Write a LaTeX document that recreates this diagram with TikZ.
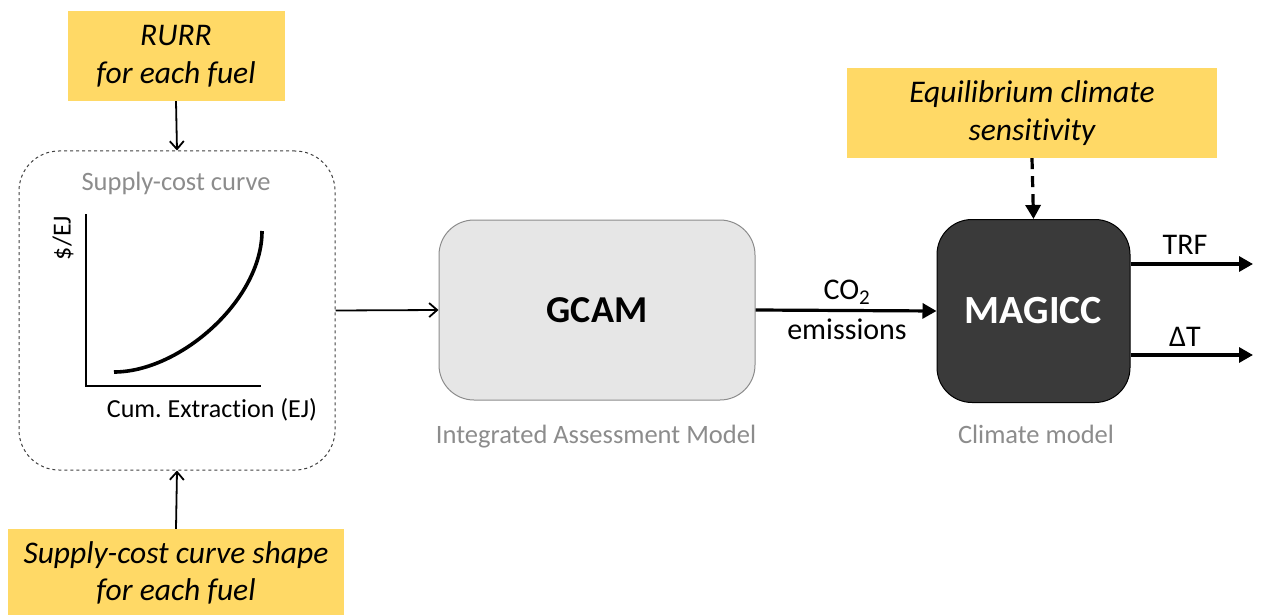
\documentclass[tikz,border=0pt]{standalone}
\usepackage{fontspec}
\setmainfont{Carlito}[Ligatures=NoCommon]
\usetikzlibrary{arrows.meta}
\definecolor{ybox}{HTML}{FFD966}
\definecolor{gtext}{HTML}{8C8C8C}
\definecolor{gcamfill}{HTML}{E6E6E6}
\definecolor{magfill}{HTML}{3A3A3A}
\begin{document}
\frenchspacing
\begin{tikzpicture}[x=1pt,y=1pt,
  inbox/.style={fill=ybox, draw=none, align=center, inner sep=0pt,
    font=\fontsize{31.5}{37.5}\selectfont\itshape},
  modelbox/.style={rounded corners=35pt, inner sep=0pt, line width=1pt},
  graylabel/.style={text=gtext, font=\fontsize{26.5}{30}\selectfont, inner sep=0pt},
  plainlabel/.style={font=\fontsize{30}{34}\selectfont, inner sep=0pt},
  thinarrow/.style={line width=1.8pt, -{Straight Barb[length=8pt,width=14pt]}},
  thickarrow/.style={line width=3.2pt, -{Triangle[length=14pt,width=15pt]}},
]
\useasboundingbox (0,0) rectangle (1261,-615);

% input boxes
\node[inbox, minimum width=217pt, minimum height=90pt] (rurr) at (176,-56) {RURR\\for each fuel};
\node[inbox, minimum width=336pt, minimum height=88pt] (shape) at (176,-573) {Supply-cost curve shape\\for each fuel};
\node[inbox, minimum width=370pt, minimum height=90pt] (ecs) at (1032,-113) {Equilibrium climate\\sensitivity};

% supply-cost curve container
\node[draw=black!75, dashed, line width=1pt, rounded corners=40pt, minimum width=316pt, minimum height=319pt, inner sep=0pt] (sc) at (177,-310.5) {};
\node[graylabel] (sctitle) at (176,-183) {Supply-cost curve};
\draw[line width=2.4pt] (86,-214) -- (86,-386) -- (261,-386);
\draw[line width=3.6pt] (114,-372) .. controls (180,-372) and (262,-300) .. (262,-231);
\node[font=\fontsize{26}{30}\selectfont, rotate=90, inner sep=0pt] (ylab) at (63,-238) {\$/EJ};
\node[font=\fontsize{26}{30}\selectfont, inner sep=0pt] (xlab) at (212,-410) {Cum. Extraction (EJ)};

% models
\node[modelbox, draw=black!45, fill=gcamfill, minimum width=316pt, minimum height=180pt,
  font=\fontsize{38}{42}\selectfont\bfseries] (gcam) at (597,-310) {GCAM};
\node[graylabel] (gcamlab) at (596,-437) {Integrated Assessment Model};
\node[modelbox, draw=black, fill=magfill, text=white, minimum width=193pt, minimum height=183pt,
  font=\fontsize{40}{44}\selectfont\bfseries] (magicc) at (1033.5,-311) {MAGICC};
\node[graylabel] (maglab) at (1036,-434) {Climate model};

% connectors
\draw[thinarrow] (rurr.south) -- (sc.north);
\draw[thinarrow] (shape.north) -- (sc.south);
\draw[thinarrow] (sc.east) -- (gcam.west);
\draw[thickarrow] (gcam.east) -- (magicc.west);
\node[plainlabel] (co2) at (847,-292) {CO\textsubscript{2}};
\node[plainlabel] (emis) at (847,-329) {emissions};
\draw[thickarrow, dash pattern=on 11pt off 7pt] (ecs.south) -- (magicc.north);
\coordinate (trf) at (1253,-264);
\coordinate (dt) at (1253,-355);
\draw[thickarrow] (magicc.east |- trf) -- (trf);
\draw[thickarrow] (magicc.east |- dt) -- (dt);
\node[plainlabel] (trflab) at (1185,-245) {TRF};
\node[plainlabel] (dtlab) at (1185,-337) {ΔT};
\end{tikzpicture}
\end{document}
